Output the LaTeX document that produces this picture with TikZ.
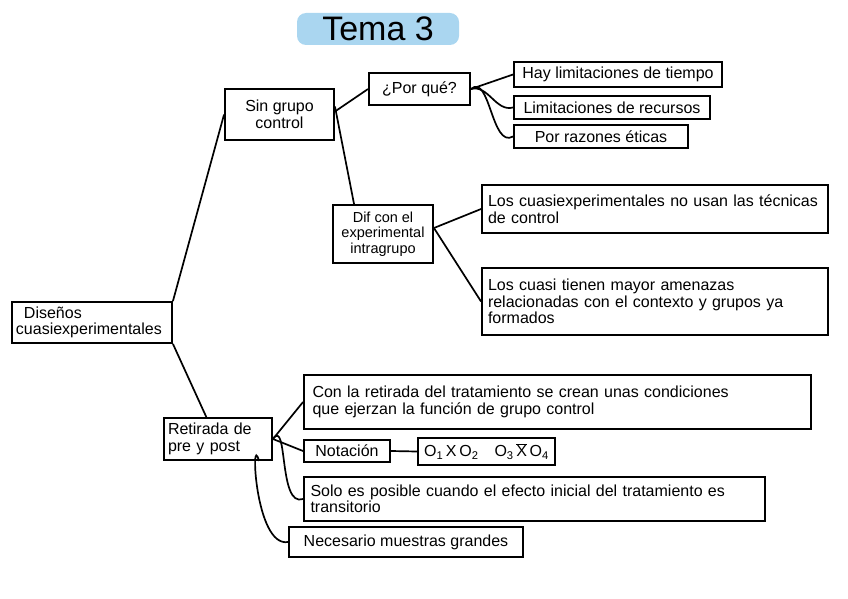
\documentclass[tikz,border=0pt]{standalone}
\usepackage{fontspec}
\setmainfont{Liberation Sans}
\usepackage{tikz}
\definecolor{resaltado}{RGB}{170,214,240}

\begin{document}
\begin{tikzpicture}[x=1pt,y=1pt,yscale=-1,xscale=1,
  caja/.style={draw, line width=1.9pt, inner sep=3pt, font=\fontsize{16}{16.5}\selectfont},
  rama/.style={line width=1.7pt}]
\useasboundingbox (0,0) rectangle (848,599);

% Title
\node [fill=resaltado, rounded corners=9pt, minimum width=162pt, minimum height=32pt] (tema) at (378,29) {};
\node [font=\fontsize{34}{36}\selectfont] (temaTxt) at (tema.center) {Tema 3};

%Shape: Rectangle -- raiz
\node [caja, minimum width=160pt, minimum height=41pt, text width=152pt, align=left] (disenos) at (92,322.5) {\hspace*{8pt}Diseños\\cuasiexperimentales};

%Shape: Rectangle -- primera rama
\node [caja, minimum width=109pt, minimum height=51pt, align=center] (singrupo) at (279.5,114.5) {Sin grupo\\control};
\node [caja, minimum width=101pt, minimum height=32pt] (porque) at (419.5,89) {¿Por qué?};
\node [caja, minimum width=208pt, minimum height=25pt, inner sep=1pt] (tiempo) at (618,74.5) {Hay limitaciones de tiempo};
\node [caja, minimum width=196pt, minimum height=23pt, inner sep=1pt] (recursos) at (612,107.5) {Limitaciones de recursos};
\node [caja, minimum width=174pt, minimum height=23pt, inner sep=1pt] (eticas) at (601,136.5) {Por razones éticas};
\node [caja, minimum width=100pt, minimum height=58pt, inner sep=1pt, align=center, font=\fontsize{14.5}{15.5}\selectfont] (dif) at (383,234) {Dif con el\\experimental\\intragrupo};
\node [caja, minimum width=346pt, minimum height=48pt, text width=334pt, align=left] (tecnicas) at (655,209) {Los cuasiexperimentales no usan las técnicas\\de control};
\node [caja, minimum width=346pt, minimum height=67pt, text width=334pt, align=left] (amenazas) at (655,301.5) {Los cuasi tienen mayor amenazas\\relacionadas con el contexto y grupos ya\\formados};

%Shape: Rectangle -- segunda rama
\node [caja, minimum width=108pt, minimum height=42pt, text width=100pt, align=left] (retirada) at (218,439) {Retirada de\\pre y post};
\node [caja, minimum width=507pt, minimum height=54pt, text width=490pt, align=left] (condiciones) at (557.5,402) {Con la retirada del tratamiento se crean unas condiciones\\que ejerzan la función de grupo control};
\node [caja, minimum width=86pt, minimum height=22pt, inner sep=1pt] (notacion) at (347,451) {Notación};
\node [caja, minimum width=137pt, minimum height=27pt, inner sep=1pt] (diseno) at (486.5,451.5) {O\textsubscript{1}\,X\,O\textsubscript{2}\quad O\textsubscript{3}\,$\overline{\mbox{X}}$\,O\textsubscript{4}};
\node [caja, minimum width=461pt, minimum height=44pt, text width=448pt, align=left] (transitorio) at (534.5,499) {Solo es posible cuando el efecto inicial del tratamiento es\\transitorio};
\node [caja, minimum width=234pt, minimum height=30pt] (muestras) at (406,542) {Necesario muestras grandes};

%Straight Lines
\draw [rama] (disenos.north east) -- (singrupo.west);
\draw [rama] (disenos.south east) -- (retirada.118);
\draw [rama] ([yshift=-3pt]singrupo.east) -- (porque.west);
\draw [rama] ([yshift=-8pt]singrupo.east) -- ([xshift=22pt]dif.north west);
\draw [rama] (porque.east) -- (tiempo.west);
\draw [rama] (porque.east) to[out=-15,in=165] (recursos.west);
\draw [rama] (porque.east) to[out=-40,in=150] (eticas.west);
\draw [rama] ([yshift=-6pt]dif.east) -- (tecnicas.west);
\draw [rama] ([yshift=-6pt]dif.east) -- (amenazas.west);
\draw [rama] (retirada.east) -- (condiciones.west);
\draw [rama] (retirada.east) -- (notacion.west);
\draw [rama] (retirada.east) to[out=-55,in=160] (transitorio.west);
\draw [rama] (notacion.east) -- (diseno.west);
\draw [rama] ([xshift=-14pt]retirada.south east) to[out=-105,in=170] (muestras.west);

\end{tikzpicture}
\end{document}
